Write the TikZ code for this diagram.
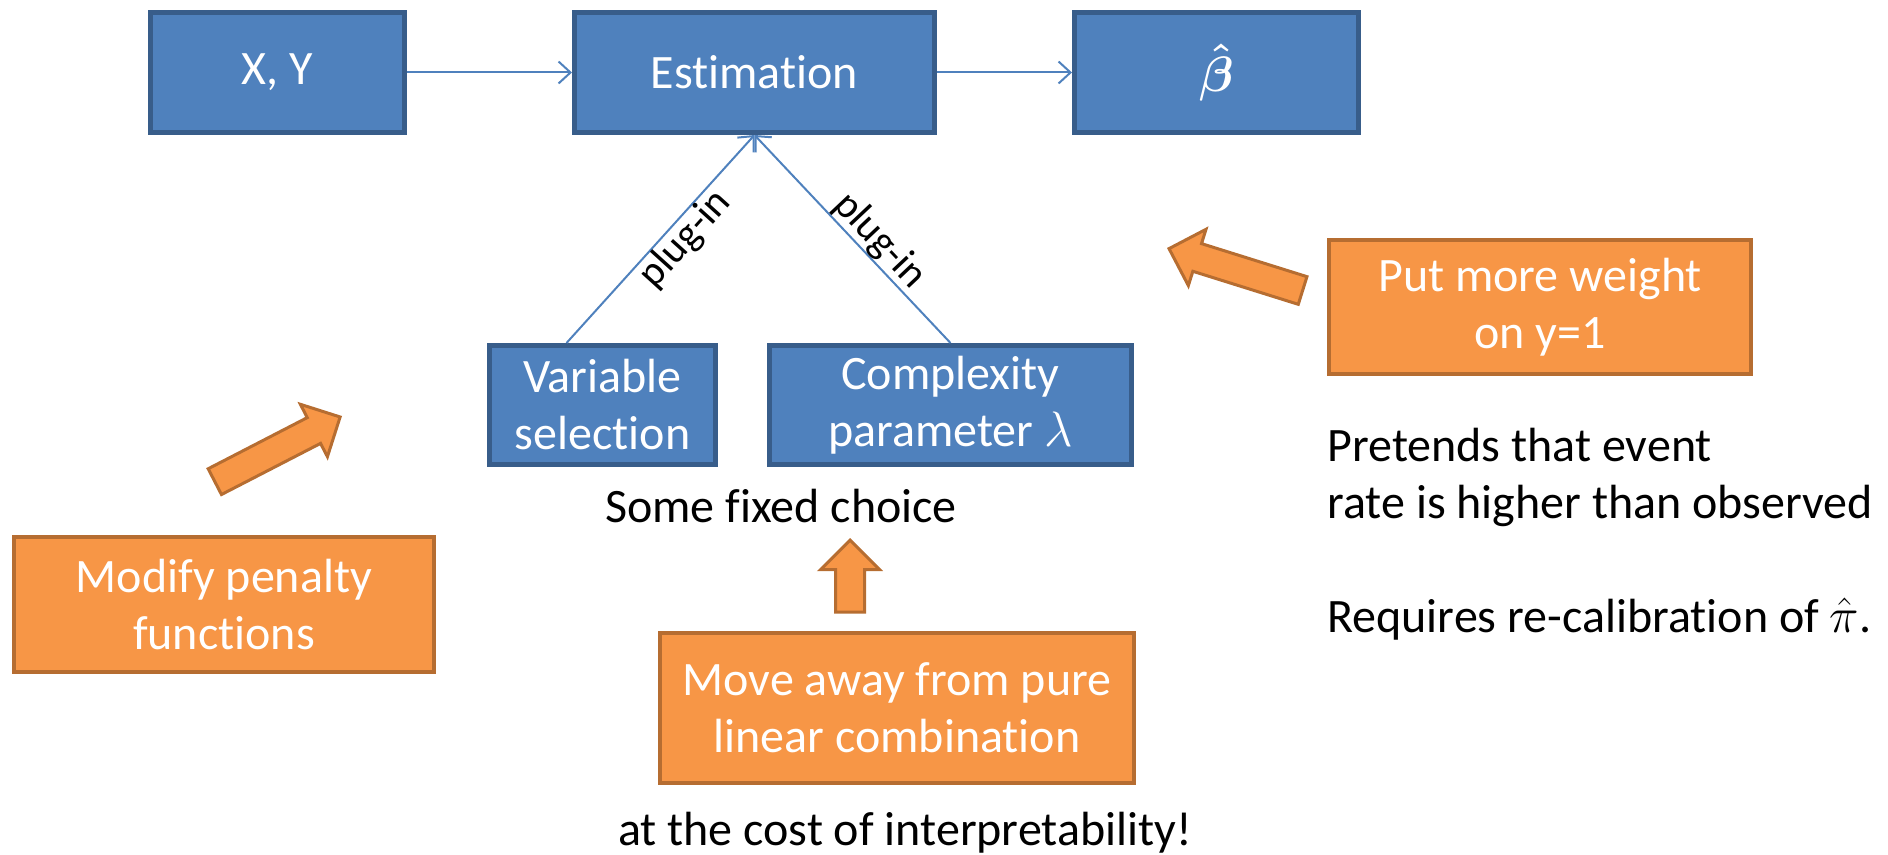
\documentclass[tikz,border=0pt]{standalone}
\usepackage{fontspec}
\setmainfont{Carlito}[Ligatures=NoCommon]
\usetikzlibrary{arrows.meta, shapes.arrows}

\definecolor{boxblue}{HTML}{4F81BD}
\definecolor{boxblueline}{HTML}{385D8A}
\definecolor{boxorange}{HTML}{F79646}
\definecolor{boxorangeline}{HTML}{B66D31}

\begin{document}
\begin{tikzpicture}[x=0.5pt, y=-0.5pt,
  every node/.style={font=\fontsize{24pt}{28.5pt}\selectfont},
  bluebox/.style={draw=boxblueline, fill=boxblue, line width=2.5pt, text=white, align=center, inner sep=0pt},
  orangebox/.style={draw=boxorangeline, fill=boxorange, line width=2pt, text=white, align=center, inner sep=0pt},
  fatarrow/.style={single arrow, draw=boxorangeline, fill=boxorange, line width=1.5pt,
    minimum width=28pt, inner xsep=0pt, inner ysep=6.5pt, single arrow head extend=7.5pt, anchor=tip},
  link/.style={draw=boxblue, line width=1pt, -{Straight Barb[length=6pt, width=11pt]}},
  plug/.style={font=\fontsize{20.5pt}{24pt}\selectfont, sloped, inner sep=0pt}
]
\useasboundingbox (0,0) rectangle (1888,855);

% the estimation pipeline
\path
(277.5,72.5) node[bluebox, minimum width=127pt, minimum height=60pt] (xy) {X, Y}
(754.5,72.5) node[bluebox, minimum width=180pt, minimum height=60pt] (est) {Estimation}
(1216.5,72.5) node[bluebox, minimum width=142pt, minimum height=60pt,
  font=\fontsize{27pt}{30pt}\selectfont\boldmath] (beta) {$\hat{\beta}$}
(602.5,405) node[bluebox, minimum width=113pt, minimum height=59.5pt] (vs) {Variable\\selection}
(950.5,405) node[bluebox, minimum width=181pt, minimum height=59.5pt] (cx) {Complexity\\parameter $\lambda$}
;

\draw[link] (xy) -- (est);
\draw[link] (est) -- (beta);
\draw[link] ([xshift=-18pt]vs.north) -- node[plug, below, pos=0.56] {plug-in} (est.south);
\draw[link] (cx.north) -- node[plug, above, pos=0.43] {plug-in} (est.south);

\node[anchor=base] (choice) at (781,522) {Some fixed choice};

% ways to change it
\path
(224,604.5) node[orangebox, minimum width=210pt, minimum height=67.5pt] (pen) {Modify penalty\\functions}
(897,708) node[orangebox, minimum width=237pt, minimum height=75pt] (mov) {Move away from pure\\linear combination}
(1540,307) node[orangebox, minimum width=211pt, minimum height=67pt] (wgt) {Put more weight\\on y=1}
;

\node[fatarrow, minimum height=70.5pt, rotate=27.3] (penarrow) at (342,416) {};
\node[fatarrow, minimum height=36pt, rotate=90] (movarrow) at (850,538) {};
\node[fatarrow, minimum height=70pt, rotate=162.6] (wgtarrow) at (1167,248) {};

\node[anchor=base] (cost) at (905,845) {at the cost of interpretability!};
\node[anchor=north west, align=left, inner sep=0pt] (note) at (1327,428)
  {Pretends that event\\rate is higher than observed\\[28.5pt]Requires re-calibration of $\hat{\pi}$.};

\end{tikzpicture}
\end{document}
